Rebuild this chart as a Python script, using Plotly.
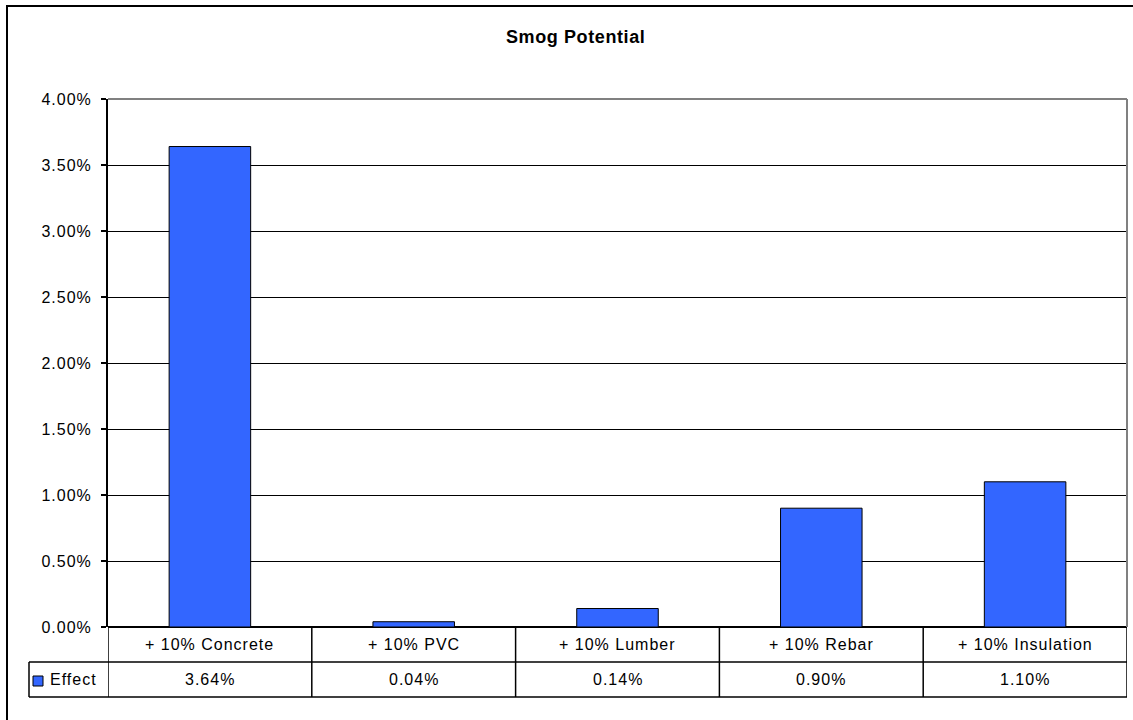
import plotly.graph_objects as go

# ---- data ----
categories = ["+ 10% Concrete", "+ 10% PVC", "+ 10% Lumber", "+ 10% Rebar", "+ 10% Insulation"]
effect = [0.0364, 0.0004, 0.0014, 0.0090, 0.0110]
effect_labels = ["3.64%", "0.04%", "0.14%", "0.90%", "1.10%"]
series_name = "Effect"
title_text = "Smog Potential"
y_ticks = [0, 0.005, 0.01, 0.015, 0.02, 0.025, 0.03, 0.035, 0.04]
y_tick_labels = ["0.00%", "0.50%", "1.00%", "1.50%", "2.00%", "2.50%", "3.00%", "3.50%", "4.00%"]

# ---- layout constants (pixels) ----
W, H = 1133, 720
L, R, T, B = 108, 6, 99, 93
PW, PH = W - L - R, H - T - B
FONT = "Liberation Sans, Arial, sans-serif"
BAR_COLOR = "#3366FF"


def px_x(x):
    return (x - L) / PW


def px_y(y):
    return (H - B - y) / PH


def spaced(s, sp=1):
    return '<span style="letter-spacing:%spx">%s</span>' % (sp, s)


fig = go.Figure()
fig.add_trace(go.Bar(
    x=list(range(len(categories))), y=effect, name=series_name,
    marker=dict(color=BAR_COLOR, line=dict(color="black", width=1)),
    width=0.4, showlegend=False, hoverinfo="skip",
))

shapes = []
row1_top, row1_bot, row2_bot = 627, 662, 697
legend_left = 29
n = len(categories)

# horizontal table lines
for yy in (row1_bot, row2_bot):
    shapes.append(dict(type="line", xref="paper", yref="paper",
                       x0=px_x(legend_left), x1=1, y0=px_y(yy), y1=px_y(yy),
                       line=dict(color="black", width=1.5)))
# vertical table lines at category boundaries
for k in range(n + 1):
    shapes.append(dict(type="line", xref="x", yref="paper",
                       x0=k - 0.5, x1=k - 0.5, y0=px_y(row1_top), y1=px_y(row2_bot),
                       line=dict(color="black", width=1.5)))
# legend cell left edge
shapes.append(dict(type="line", xref="paper", yref="paper",
                   x0=px_x(legend_left), x1=px_x(legend_left),
                   y0=px_y(row1_bot), y1=px_y(row2_bot),
                   line=dict(color="black", width=1.5)))
# legend key square
shapes.append(dict(type="rect", xref="paper", yref="paper",
                   x0=px_x(33), x1=px_x(43), y0=px_y(686), y1=px_y(676),
                   fillcolor=BAR_COLOR, line=dict(color="black", width=1)))
# plot area border (gray top/right)
shapes.append(dict(type="line", xref="paper", yref="paper", x0=0, x1=1, y0=1, y1=1,
                   line=dict(color="#808080", width=2)))
shapes.append(dict(type="line", xref="paper", yref="paper", x0=1, x1=1, y0=0, y1=1,
                   line=dict(color="#808080", width=2)))
# outer chart border
shapes.append(dict(type="rect", xref="paper", yref="paper",
                   x0=px_x(7), x1=px_x(1145), y0=px_y(735), y1=px_y(6),
                   line=dict(color="black", width=2)))

annotations = []
for i, c in enumerate(categories):
    annotations.append(dict(x=i, y=px_y((row1_top + row1_bot) / 2), xref="x", yref="paper",
                            text=spaced(c), showarrow=False,
                            font=dict(family=FONT, size=16, color="black"),
                            xanchor="center", yanchor="middle"))
    annotations.append(dict(x=i, y=px_y((row1_bot + row2_bot) / 2), xref="x", yref="paper",
                            text=spaced(effect_labels[i]), showarrow=False,
                            font=dict(family=FONT, size=16, color="black"),
                            xanchor="center", yanchor="middle"))
annotations.append(dict(x=px_x(48), y=px_y((row1_bot + row2_bot) / 2), xref="paper", yref="paper",
                        text=spaced(series_name), showarrow=False,
                        font=dict(family=FONT, size=16, color="black"),
                        xanchor="left", yanchor="middle"))
annotations.append(dict(x=px_x(575), y=px_y(37), xref="paper", yref="paper",
                        text="<b>" + spaced(title_text, 0.6) + "</b>", showarrow=False,
                        font=dict(family=FONT, size=18, color="black"),
                        xanchor="center", yanchor="middle"))

fig.update_layout(
    width=W, height=H,
    margin=dict(l=L, r=R, t=T, b=B, pad=0),
    paper_bgcolor="white", plot_bgcolor="white",
    shapes=shapes, annotations=annotations,
    bargap=0.6,
    font=dict(family=FONT, size=16, color="black"),
    xaxis=dict(range=[-0.5, n - 0.5], showticklabels=False, showgrid=False,
               showline=False, zeroline=False, ticks="", fixedrange=True),
    yaxis=dict(range=[0, 0.04], tickvals=y_ticks, ticktext=[spaced(t) for t in y_tick_labels],
               showgrid=True, gridcolor="black", gridwidth=1,
               showline=True, linecolor="black", linewidth=2,
               ticks="outside", ticklen=5, tickcolor="black", tickwidth=1.5,
               zeroline=True, zerolinecolor="black", zerolinewidth=2,
               tickfont=dict(family=FONT, size=16, color="black"),
               ticklabelstandoff=6, fixedrange=True),
)

fig.write_html("out.html")
